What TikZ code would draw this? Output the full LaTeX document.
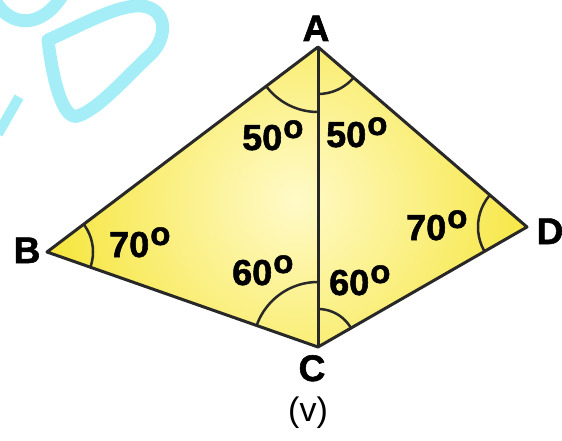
\documentclass[tikz,border=0pt]{standalone}
\usepackage{fontspec}
\setmainfont{Liberation Sans}[BoldFeatures={FakeBold=1.5}]
\definecolor{wm}{RGB}{166,238,247}
\definecolor{fillin}{RGB}{255,250,200}
\definecolor{fillout}{RGB}{245,228,50}
\definecolor{edge}{RGB}{40,40,40}
\newcommand\dg{\hspace{1pt}\raisebox{12pt}{\fontsize{33}{33}\selectfont o}}
\begin{document}
\begin{tikzpicture}[x=1pt,y=-1pt,
  lbl/.style={font=\fontsize{36}{36}\selectfont\bfseries, inner sep=0pt},
  vlbl/.style={font=\fontsize{37}{37}\selectfont\bfseries, inner sep=0pt},
  side/.style={draw=edge, line width=3pt, line join=round},
  arcline/.style={draw=edge, line width=2.5pt},
  wmark/.style={draw=wm, line width=13pt, line cap=round, line join=round}]
\useasboundingbox (0,0) rectangle (562,441);
% watermark
\draw[wmark] (-4,2) .. controls (10,26) and (40,30) .. (62,-4);
\draw[wmark] (48,40) .. controls (80,26) and (118,4) .. (142,6) .. controls (168,9) and (168,38) .. (150,55) .. controls (125,78) and (100,108) .. (78,116) .. controls (62,121) and (52,75) .. (48,40) -- cycle;
\draw[draw=wm, line width=10pt] (-2,134) -- (19,97);
% vertices
\coordinate (A) at (318,47);
\coordinate (B) at (47,252);
\coordinate (C) at (318,347);
\coordinate (D) at (527,227);
% fill
\begin{scope}
\clip (A) -- (B) -- (C) -- (D) -- cycle;
\shade[inner color=fillin, outer color=fillout] (295,200) circle (270);
\end{scope}
% angle arcs
\begin{scope}
\clip (A) -- (B) -- (C) -- cycle;
\draw[arcline] (A) circle (65);
\draw[arcline] (B) circle (46);
\draw[arcline] (C) circle (65);
\end{scope}
\begin{scope}
\clip (A) -- (C) -- (D) -- cycle;
\draw[arcline] (A) circle (47);
\draw[arcline] (C) circle (38);
\draw[arcline] (D) circle (49);
\end{scope}
% sides
\draw[side] (A) -- (B) -- (C) -- (D) -- cycle;
\draw[side] (A) -- (C);
% vertex labels
\node[vlbl, anchor=base] (la) at (316,41) {A};
\node[vlbl, anchor=base] (lb) at (27,263) {B};
\node[vlbl, anchor=base] (lc) at (312,381) {C};
\node[vlbl, anchor=base] (ld) at (550,244) {D};
\node[font=\fontsize{34}{34}\selectfont, inner sep=0pt] (lv) at (308,413) {(v)};
% angle labels
\node[lbl, anchor=base west] (a1) at (242,150) {50\dg};
\node[lbl, anchor=base west] (a2) at (326,147) {50\dg};
\node[lbl, anchor=base west] (b1) at (109,257) {70\dg};
\node[lbl, anchor=base west] (c1) at (232,285) {60\dg};
\node[lbl, anchor=base west] (c2) at (329,295) {60\dg};
\node[lbl, anchor=base west] (d1) at (406,240) {70\dg};
\end{tikzpicture}
\end{document}
